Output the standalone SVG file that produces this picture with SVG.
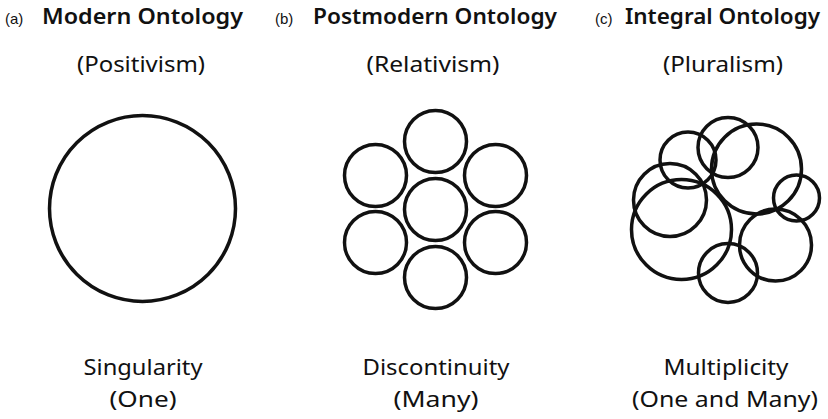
<svg xmlns="http://www.w3.org/2000/svg" width="828" height="419" viewBox="0 0 828 419">
<style>
.c{fill:none;stroke:#111;stroke-width:3.5}
.lab{font-family:"Liberation Sans",Arial,sans-serif;font-size:15px;fill:#111}
.ttl{font-family:"Noto Sans","Open Sans",sans-serif;font-size:22px;font-weight:600;fill:#111}
.sub{font-family:"Noto Sans","Open Sans",sans-serif;font-size:21px;fill:#111;text-anchor:middle}
.bot{font-family:"Noto Sans","Open Sans",sans-serif;font-size:21px;fill:#111;text-anchor:middle}
</style>
<rect width="828" height="419" fill="#fff"/>
<g id="panel-a">
<text class="lab" x="5" y="24">(a)</text>
<text class="ttl" x="42" y="24" textLength="201" lengthAdjust="spacingAndGlyphs">Modern Ontology</text>
<text class="sub" x="141" y="72" textLength="128" lengthAdjust="spacingAndGlyphs">(Positivism)</text>
<circle class="c" cx="142.5" cy="208.5" r="93"/>
<text class="bot" x="143" y="375" textLength="119" lengthAdjust="spacingAndGlyphs">Singularity</text>
<text class="bot" x="143" y="407" textLength="67" lengthAdjust="spacingAndGlyphs">(One)</text>
</g>
<g id="panel-b">
<text class="lab" x="275" y="24">(b)</text>
<text class="ttl" x="313" y="24" textLength="244" lengthAdjust="spacingAndGlyphs">Postmodern Ontology</text>
<text class="sub" x="433" y="72" textLength="133" lengthAdjust="spacingAndGlyphs">(Relativism)</text>
<circle class="c" cx="435.5" cy="141.5" r="31"/>
<circle class="c" cx="435.5" cy="209.5" r="31"/>
<circle class="c" cx="435.5" cy="277.5" r="31"/>
<circle class="c" cx="375.5" cy="175.5" r="31"/>
<circle class="c" cx="375.5" cy="242.5" r="31"/>
<circle class="c" cx="495.5" cy="175.5" r="31"/>
<circle class="c" cx="495.5" cy="242.5" r="31"/>
<text class="bot" x="436" y="375" textLength="147" lengthAdjust="spacingAndGlyphs">Discontinuity</text>
<text class="bot" x="436" y="407" textLength="85" lengthAdjust="spacingAndGlyphs">(Many)</text>
</g>
<g id="panel-c">
<text class="lab" x="595" y="24">(c)</text>
<text class="ttl" x="625" y="24" textLength="195" lengthAdjust="spacingAndGlyphs">Integral Ontology</text>
<text class="sub" x="723" y="72" textLength="120" lengthAdjust="spacingAndGlyphs">(Pluralism)</text>
<circle class="c" cx="688" cy="160" r="28"/>
<circle class="c" cx="728" cy="147.5" r="30"/>
<circle class="c" cx="756.5" cy="169" r="45"/>
<circle class="c" cx="796.5" cy="198" r="23"/>
<circle class="c" cx="670" cy="200" r="36.5"/>
<circle class="c" cx="681.5" cy="229.5" r="50"/>
<circle class="c" cx="775.5" cy="245" r="36"/>
<circle class="c" cx="728" cy="273" r="29.5"/>
<text class="bot" x="726" y="375" textLength="125" lengthAdjust="spacingAndGlyphs">Multiplicity</text>
<text class="bot" x="725" y="407" textLength="186" lengthAdjust="spacingAndGlyphs">(One and Many)</text>
</g>
</svg>
